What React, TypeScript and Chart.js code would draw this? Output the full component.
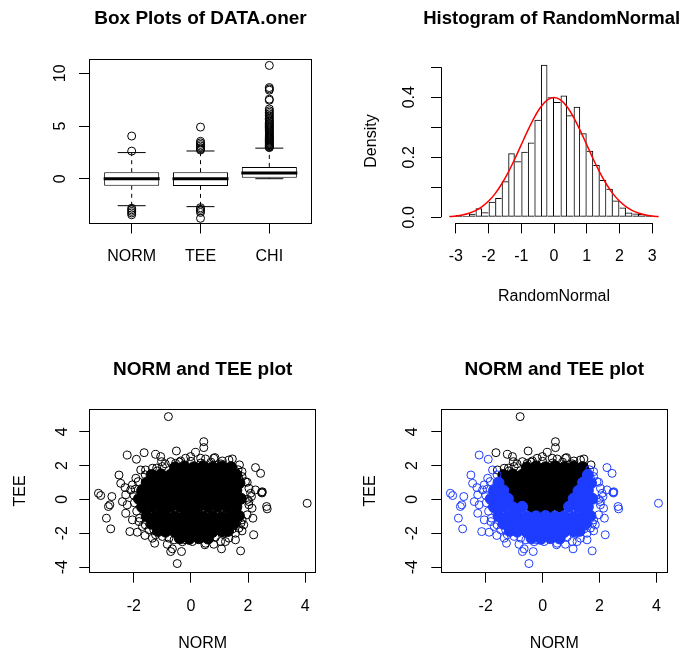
import React, { useEffect, useRef } from 'react';
import { Chart, registerables } from 'chart.js';

Chart.register(...registerables);

const FONT = '"Liberation Sans", Arial, Helvetica, sans-serif';
Chart.defaults.font.family = FONT;
Chart.defaults.color = '#000';

// ---------------- Box plot data ----------------
const boxCategories = ['NORM', 'TEE', 'CHI'];
const boxXTicks = [1, 2, 3];
const boxLower = [-2.56, -2.65, 0.0];
const boxQ1 = [-0.67, -0.68, 0.08];
const boxMedian = [0.0, 0.0, 0.54];
const boxQ3 = [0.62, 0.62, 1.12];
const boxUpper = [2.48, 2.63, 2.9];
const normOutliers = [4.05, 2.62, -2.8, -2.95, -3.1, -3.25, -3.42];
const teeOutliers = [4.9, 3.55, 3.4, 3.25, 3.1, 2.95, 2.82, 2.72, -2.75, -2.9, -3.05, -3.2, -3.76];
const chiOutliers = [
  10.75, 8.65, 8.52, 8.4, 7.55, 7.45, 6.62, 6.45, 6.3, 6.15, 6.0, 5.85, 5.72, 5.6, 5.48, 5.36,
  5.25, 5.14, 5.04, 4.94, 4.84, 4.74, 4.64, 4.54, 4.44, 4.34, 4.24, 4.15, 4.06, 3.97, 3.88,
  3.79, 3.7, 3.62, 3.54, 3.46, 3.38, 3.3, 3.22, 3.15, 3.08, 3.01, 2.95,
];
const boxYTicks = [0, 5, 10];
const boxYLabels = ['0', '5', '10'];

// ---------------- Histogram data ----------------
const histMids = [
  -3.1, -2.9, -2.7, -2.5, -2.3, -2.1, -1.9, -1.7, -1.5, -1.3, -1.1, -0.9, -0.7, -0.5, -0.3, -0.1,
  0.1, 0.3, 0.5, 0.7, 0.9, 1.1, 1.3, 1.5, 1.7, 1.9, 2.1, 2.3, 2.5, 2.7, 2.9, 3.1,
];
const histDensity = [
  0.004, 0.008, 0.004, 0.012, 0.03, 0.017, 0.052, 0.064, 0.12, 0.213, 0.187, 0.218, 0.249, 0.325,
  0.508, 0.4, 0.384, 0.406, 0.34, 0.368, 0.28, 0.222, 0.174, 0.124, 0.095, 0.056, 0.033, 0.016,
  0.013, 0.011, 0.005, 0.003,
];
const curveX = [
  -3.2, -3.0, -2.8, -2.6, -2.4, -2.2, -2.0, -1.8, -1.6, -1.4, -1.2, -1.0, -0.8, -0.6, -0.4, -0.2, 0,
  0.2, 0.4, 0.6, 0.8, 1.0, 1.2, 1.4, 1.6, 1.8, 2.0, 2.2, 2.4, 2.6, 2.8, 3.0, 3.2,
];
const curveY = [
  0.0024, 0.0044, 0.0079, 0.0136, 0.0224, 0.0355, 0.054, 0.079, 0.1109, 0.1497, 0.1942, 0.242,
  0.2897, 0.3332, 0.3683, 0.391, 0.3989, 0.391, 0.3683, 0.3332, 0.2897, 0.242, 0.1942, 0.1497,
  0.1109, 0.079, 0.054, 0.0355, 0.0224, 0.0136, 0.0079, 0.0044, 0.0024,
];
const histXTicks = [-3, -2, -1, 0, 1, 2, 3];
const histXLabels = ['-3', '-2', '-1', '0', '1', '2', '3'];
const histYTicks = [0, 0.1, 0.2, 0.3, 0.4, 0.5];
const histYLabels = ['0.0', '', '0.2', '', '0.4', ''];

// ---------------- Scatter data (NORM, TEE) ----------------
// dense centre, upper part (black in the coloured plot)
const coreUpper = [
  [-0.56, 1.88], [-0.23, 1.95], [0.1, 1.9], [0.43, 1.96], [0.76, 1.9], [1.09, 1.94], [1.42, 1.88],
  [-1.38, 1.44], [-1.05, 1.48], [-0.72, 1.45], [-0.39, 1.47], [-0.06, 1.44], [0.27, 1.48], [0.6, 1.46], [0.93, 1.43], [1.26, 1.47],
  [-1.22, 0.98], [-0.89, 1.0], [-0.56, 0.97], [-0.23, 1.01], [0.1, 0.99], [0.43, 0.97], [0.76, 1.0], [1.09, 0.98],
  [-1.05, 0.5], [-0.72, 0.53], [-0.39, 0.51], [-0.06, 0.54], [0.27, 0.5], [0.6, 0.52], [0.93, 0.5],
  [-0.89, 0.05], [-0.56, 0.03], [-0.23, 0.06], [0.1, 0.02], [0.43, 0.05], [0.76, 0.03],
  [-0.39, -0.43], [-0.06, -0.45], [0.27, -0.42], [0.6, -0.44], [-0.2, -0.66], [0.15, -0.68],
];
// dense centre, lower part (blue in the coloured plot)
const coreLower = [
  [1.59, 1.45],
  [-1.55, 0.99], [1.42, 0.99], [1.7, 0.96],
  [-1.71, 0.52], [-1.38, 0.53], [1.26, 0.51], [1.59, 0.53],
  [-1.82, 0.03], [-1.55, 0.05], [-1.22, 0.04], [1.09, 0.05], [1.42, 0.03], [1.75, 0.04],
  [-1.71, -0.45], [-1.38, -0.43], [-1.05, -0.46], [-0.72, -0.44], [0.93, -0.43], [1.26, -0.45], [1.59, -0.44],
  [-1.55, -0.98], [-1.22, -1.0], [-0.89, -0.97], [-0.56, -1.01], [-0.23, -1.0], [0.1, -0.98], [0.43, -1.01], [0.76, -0.99], [1.09, -1.02], [1.42, -0.98], [1.68, -0.97],
  [-1.38, -1.44], [-1.05, -1.46], [-0.72, -1.43], [-0.39, -1.47], [-0.06, -1.45], [0.27, -1.43], [0.6, -1.46], [0.93, -1.44], [1.26, -1.47], [1.52, -1.43],
  [-1.15, -1.86], [-0.89, -1.9], [-0.56, -1.92], [-0.23, -1.88], [0.1, -1.91], [0.43, -1.89], [0.76, -1.92], [1.09, -1.88], [1.3, -1.86],
  [-0.39, -2.3], [-0.06, -2.33], [0.27, -2.29], [0.6, -2.31],
];
// scattered points, upper group
const edgeUpper = [
  [-0.79, 4.89], [-1.64, 2.76], [-1.24, 2.66], [-1.06, 2.53], [-1.03, 2.23], [0.45, 3.41], [0.45, 3.06],
  [0.16, 2.78], [-0.51, 2.86], [0.84, 2.47], [1.45, 2.39], [1.7, 2.04],
  [-1.59, 1.74], [-1.35, 1.84], [-1.18, 1.68], [-1.0, 1.94], [-0.71, 2.23], [-0.54, 2.13], [-0.36, 2.27],
  [-0.19, 2.43], [-0.01, 2.53], [0.34, 2.43], [0.51, 2.39], [0.8, 2.43], [1.1, 2.27], [1.33, 2.33], [1.33, 1.45],
  [-0.9, 2.1], [-0.4, 2.2], [0.0, 2.25], [0.35, 2.15], [0.7, 2.2], [1.05, 2.1], [1.4, 2.0], [-1.2, 1.85],
];
// scattered points, lower group
const edgeLower = [
  [4.07, -0.23], [-3.24, 0.36], [-3.16, 0.23], [-2.77, 0.17], [-2.84, -0.32], [-2.89, -0.42], [-2.96, -1.11],
  [-2.81, -1.74], [-2.52, 1.44], [-2.46, 0.95], [-2.31, 0.7], [-2.23, 2.62], [-1.91, 2.37], [-2.14, -1.9],
  [-1.88, -1.94], [-1.61, -2.13], [-1.35, -2.29], [-1.27, -2.59], [-0.83, -2.65], [-0.65, -2.92], [-0.71, -3.08],
  [-0.33, -3.08], [-0.48, -3.79], [2.26, 1.88], [2.44, 1.54], [2.47, 0.42], [2.5, 0.45], [2.49, 0.38],
  [2.65, -0.42], [2.67, -0.56], [2.17, -1.11], [2.2, -2.09], [1.74, -3.04], [1.07, -2.92], [0.8, -2.65],
  [0.49, -2.68], [1.21, -2.49], [1.56, -2.39], [1.79, -1.86], [2.03, -0.13], [2.12, 0.17], [2.26, 0.56],
  [1.97, 1.01], [1.79, 1.35],
  [-1.76, 1.74], [1.79, 1.64], [1.68, 1.25], [-1.93, 1.25], [-2.05, 0.86], [-2.11, 0.56], [-2.28, 0.27],
  [-2.4, -0.13], [-2.23, -0.32], [-2.28, -0.82], [-2.05, -1.21], [-1.82, -1.31], [-1.7, -1.6], [-1.47, -1.8],
  [-1.24, -2.09], [-1.0, -2.19], [-0.77, -2.29], [-0.59, -2.39], [-0.19, -2.39], [0.05, -2.49], [0.34, -2.33],
  [0.51, -2.59], [1.04, -2.49], [1.33, -2.29], [1.56, -2.0], [1.68, -1.7], [1.91, 1.05], [2.03, 0.66],
  [2.09, 0.36], [2.03, -0.32], [2.14, -0.52], [1.97, -0.91], [1.79, -1.21], [1.85, -1.5],
  [1.65, 1.75], [-1.6, 1.45], [-1.85, 1.05], [-1.95, 0.6], [-2.0, 0.25], [-1.98, -0.2], [-1.9, -0.7],
  [-1.8, -1.1], [-1.6, -1.5], [-1.3, -1.8], [-0.3, -2.5], [0.85, -2.25], [1.15, -2.0], [1.45, -1.75],
  [1.75, -1.4], [1.98, 0.0],
];
const scatterXTicks = [-2, 0, 2, 4];
const scatterXLabels = ['-2', '0', '2', '4'];
const scatterYTicks = [-4, -2, 0, 2, 4];
const scatterYLabels = ['-4', '-2', '0', '2', '4'];

// ---------------- helpers ----------------
const BLACK = '#000000';
const BLUE = 'rgb(30,60,255)';
const NONE = 'rgba(0,0,0,0)';

const toXY = (arr: number[][]) => arr.map(([x, y]) => ({ x, y }));

function rAxis(o: any) {
  return {
    type: 'linear',
    position: o.vertical ? 'left' : 'bottom',
    min: o.min,
    max: o.max,
    bounds: 'data',
    offset: false,
    afterBuildTicks: (s: any) => {
      s.ticks = o.ticks.map((v: number) => ({ value: v }));
    },
    afterFit: (s: any) => {
      if (o.vertical) s.width = o.size;
      else s.height = o.size;
    },
    grid: {
      display: true,
      offset: false,
      drawOnChartArea: false,
      drawTicks: true,
      tickLength: 10,
      tickWidth: 1,
      tickColor: BLACK,
      color: BLACK,
      lineWidth: 1,
    },
    border: { display: false },
    ticks: {
      autoSkip: false,
      padding: o.tickPad,
      color: BLACK,
      font: { family: FONT, size: 16 },
      minRotation: o.vertical ? 90 : 0,
      maxRotation: o.vertical ? 90 : 0,
      crossAlign: o.vertical ? 'center' : 'near',
      callback: (_v: any, i: number) => o.labels[i],
    },
    title: o.title
      ? {
          display: true,
          text: o.title,
          color: BLACK,
          font: { family: FONT, size: 16 },
          padding: o.vertical ? { top: o.titlePad, bottom: 0 } : { top: 0, bottom: o.titlePad },
        }
      : { display: false },
  };
}

// invisible spacer axis (keeps the plot region where R puts it)
function spacerAxis(width: number) {
  return {
    type: 'linear',
    position: 'right',
    display: true,
    grid: { display: false, drawTicks: false },
    border: { display: false },
    ticks: { display: false },
    afterFit: (s: any) => {
      s.width = width;
    },
  };
}

const rFramePlugin = {
  id: 'rFrame',
  afterDraw(chart: any, _args: any, opts: any) {
    const { ctx, chartArea: a } = chart;
    ctx.save();
    ctx.strokeStyle = BLACK;
    ctx.lineWidth = 1;
    const L = Math.floor(a.left) + 0.5;
    const R = Math.ceil(a.right) - 0.5;
    const T = Math.floor(a.top) + 0.5;
    const B = Math.floor(a.bottom) + 0.5;
    if (opts && opts.box) {
      ctx.strokeRect(L, T, R - L, B - T);
    }
    if (opts && opts.axisLines) {
      const xs = chart.scales.x;
      const ys = chart.scales.y;
      const xt = xs.ticks;
      const yt = ys.ticks;
      ctx.beginPath();
      ctx.moveTo(xs.getPixelForValue(xt[0].value), B);
      ctx.lineTo(xs.getPixelForValue(xt[xt.length - 1].value), B);
      ctx.moveTo(L, ys.getPixelForValue(yt[0].value));
      ctx.lineTo(L, ys.getPixelForValue(yt[yt.length - 1].value));
      ctx.stroke();
    }
    ctx.restore();
  },
};

function titleOpts(text: string, padTop: number, padBottom: number, size = 19, fullSize = false) {
  return {
    display: true,
    text,
    color: BLACK,
    fullSize,
    font: { family: FONT, size, weight: 'bold' },
    padding: { top: padTop, bottom: padBottom },
  };
}

// ---------------- chart configs ----------------
function boxConfig() {
  const outliers = [
    ...normOutliers.map((y) => ({ x: boxXTicks[0], y })),
    ...teeOutliers.map((y) => ({ x: boxXTicks[1], y })),
    ...chiOutliers.map((y) => ({ x: boxXTicks[2], y })),
  ];
  const staples = boxXTicks.flatMap((x, i) => [
    { x, y: boxUpper[i] },
    { x, y: boxLower[i] },
  ]);
  const whiskers = boxXTicks.flatMap((x, i) => [
    { x, y: boxQ3[i] },
    { x, y: boxUpper[i] },
    { x, y: null },
    { x, y: boxQ1[i] },
    { x, y: boxLower[i] },
    { x, y: null },
  ]);
  return {
    type: 'bar',
    data: {
      datasets: [
        {
          type: 'scatter',
          data: outliers,
          pointStyle: 'circle',
          pointRadius: 4,
          pointBorderWidth: 1,
          pointBorderColor: BLACK,
          pointBackgroundColor: NONE,
          order: 0,
        },
        {
          type: 'scatter',
          data: boxMedian.map((y, i) => ({ x: boxXTicks[i], y })),
          pointStyle: 'line',
          pointRadius: 28,
          pointBorderWidth: 3,
          pointBorderColor: BLACK,
          order: 0,
        },
        {
          type: 'scatter',
          data: staples,
          pointStyle: 'line',
          pointRadius: 14,
          pointBorderWidth: 1,
          pointBorderColor: BLACK,
          order: 1,
        },
        {
          type: 'bar',
          data: boxQ1.map((q, i) => ({ x: boxXTicks[i], y: [q, boxQ3[i]] })),
          backgroundColor: '#ffffff',
          borderColor: BLACK,
          borderWidth: 1,
          borderSkipped: false,
          barPercentage: 0.8,
          categoryPercentage: 1,
          inflateAmount: 0,
          order: 2,
        },
        {
          type: 'line',
          data: whiskers,
          borderColor: BLACK,
          borderWidth: 1,
          borderDash: [4, 4],
          pointRadius: 0,
          spanGaps: false,
          fill: false,
          order: 3,
        },
      ],
    },
    options: {
      responsive: false,
      animation: false,
      events: [],
      layout: { padding: { left: 0, top: 0, right: 27, bottom: 0 } },
      plugins: {
        legend: { display: false },
        tooltip: { enabled: false },
        title: titleOpts('Box Plots of DATA.oner', 7.6, 28.6),
        rFrame: { box: true },
      },
      scales: {
        x: rAxis({ vertical: false, min: 0.38, max: 3.62, ticks: boxXTicks, labels: boxCategories, size: 104.5, tickPad: 13.4 }),
        y: rAxis({ vertical: true, min: -4.25, max: 11.36, ticks: boxYTicks, labels: boxYLabels, size: 89, tickPad: 9.1 }),
      },
    },
    plugins: [rFramePlugin],
  };
}

// The histogram canvas is wider than its panel so that the full-width title
// can be centred over the plot region without being squeezed.
const HIST_CANVAS_W = 430;

function histConfig() {
  const n = histDensity.length;
  const histBorder = (ctx: any) => {
    const i = ctx.dataIndex;
    if (i === undefined || i === null) return 1;
    const h = histDensity[i];
    const prev = i > 0 ? histDensity[i - 1] : -1;
    const next = i < n - 1 ? histDensity[i + 1] : -1;
    return { top: 1, bottom: 1, left: h > prev ? 1 : 0, right: h >= next ? 1 : 0 };
  };
  const padRight = HIST_CANVAS_W - 417.4;
  return {
    type: 'bar',
    data: {
      datasets: [
        {
          type: 'line',
          data: curveX.map((x, i) => ({ x, y: curveY[i] })),
          borderColor: '#ff0000',
          borderWidth: 1.5,
          pointRadius: 0,
          cubicInterpolationMode: 'monotone',
          fill: false,
          order: 0,
        },
        {
          type: 'bar',
          data: histMids.map((x, i) => ({ x, y: histDensity[i] })),
          backgroundColor: NONE,
          borderColor: BLACK,
          borderWidth: histBorder,
          borderSkipped: false,
          barPercentage: 1,
          categoryPercentage: 1,
          inflateAmount: 0,
          order: 1,
        },
      ],
    },
    options: {
      responsive: false,
      animation: false,
      events: [],
      layout: { padding: { left: 0, top: 0, right: padRight, bottom: 0 } },
      plugins: {
        legend: { display: false },
        tooltip: { enabled: false },
        title: titleOpts('Histogram of RandomNormal', 7.6, 28.9, 18.5, true),
        rFrame: { axisLines: true },
      },
      scales: {
        x: rAxis({ vertical: false, min: -3.456, max: 3.456, ticks: histXTicks, labels: histXLabels, size: 104.6, tickPad: 13.4, title: 'RandomNormal', titlePad: 21.7 }),
        y: rAxis({ vertical: true, min: -0.0203, max: 0.5283, ticks: histYTicks, labels: histYLabels, size: 98, tickPad: 10, title: 'Density', titlePad: 19.4 }),
        yPad: spacerAxis(HIST_CANVAS_W - padRight - 324),
      },
    },
    plugins: [rFramePlugin],
  };
}

function pointSet(points: number[][], color: string, filled: boolean, order: number) {
  return {
    data: toXY(points),
    pointStyle: 'circle',
    pointRadius: filled ? 5.5 : 4,
    pointBorderWidth: 1,
    pointBorderColor: color,
    pointBackgroundColor: filled ? color : NONE,
    order,
  };
}

function scatterConfig(coloured: boolean) {
  const datasets = coloured
    ? [
        pointSet(edgeLower, BLUE, false, 0),
        pointSet(coreLower, BLUE, true, 0),
        pointSet(edgeUpper, BLACK, false, 1),
        pointSet(coreUpper, BLACK, true, 1),
      ]
    : [
        pointSet(edgeUpper.concat(edgeLower), BLACK, false, 0),
        pointSet(coreUpper.concat(coreLower), BLACK, true, 1),
      ];
  return {
    type: 'scatter',
    data: { datasets },
    options: {
      responsive: false,
      animation: false,
      events: [],
      layout: { padding: { left: 0, top: 0, right: coloured ? 19.7 : 27, bottom: 0 } },
      plugins: {
        legend: { display: false },
        tooltip: { enabled: false },
        title: titleOpts('NORM and TEE plot', 30.1, 28.1),
        rFrame: { box: true },
      },
      scales: {
        x: rAxis({ vertical: false, min: -3.56, max: 4.38, ticks: scatterXTicks, labels: scatterXLabels, size: 83.3, tickPad: 14.7, title: 'NORM', titlePad: 2.7 }),
        y: rAxis({ vertical: true, min: -4.33, max: 5.34, ticks: scatterYTicks, labels: scatterYLabels, size: coloured ? 98.3 : 89.3, tickPad: coloured ? 12 : 10, title: 'TEE', titlePad: coloured ? 18.4 : 11.4 }),
      },
    },
    plugins: [rFramePlugin],
  };
}

function ChartPanel({ left, top, width, height, make }: any) {
  const ref = useRef<HTMLCanvasElement | null>(null);
  useEffect(() => {
    const chart = new Chart(ref.current as HTMLCanvasElement, make() as any);
    return () => chart.destroy();
  }, []);
  return (
    <canvas
      ref={ref}
      width={width}
      height={height}
      style={{ position: 'absolute', left, top, width, height, display: 'block' }}
    />
  );
}

export default function App() {
  return (
    <div style={{ position: 'absolute', left: 0, top: 0, width: 687, height: 656, background: '#ffffff', overflow: 'hidden' }}>
      <ChartPanel left={0} top={0} width={343} height={328} make={boxConfig} />
      <ChartPanel left={343} top={0} width={HIST_CANVAS_W} height={328} make={histConfig} />
      <ChartPanel left={0} top={328} width={343} height={328} make={() => scatterConfig(false)} />
      <ChartPanel left={343} top={328} width={344} height={328} make={() => scatterConfig(true)} />
    </div>
  );
}
